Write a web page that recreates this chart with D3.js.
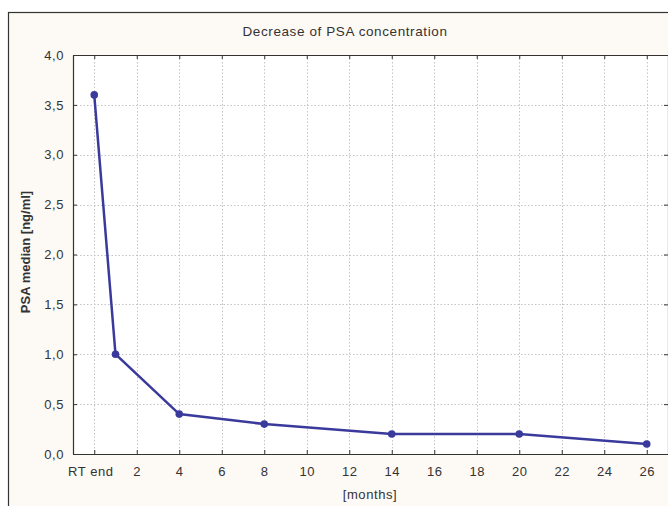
<!DOCTYPE html>
<html>
<head>
<meta charset="utf-8">
<script src="https://cdn.jsdelivr.net/npm/d3@7/dist/d3.min.js"></script>
<style>
  body { margin: 0; background: #fff; }
  text { font-family: "Liberation Sans", Arial, sans-serif; fill: #333; }
</style>
</head>
<body>
<svg id="chart" width="668" height="506"></svg>
<script>
// data
var months = [0, 1, 4, 8, 14, 20, 26];
var psaMedian = [3.6, 1.0, 0.4, 0.3, 0.2, 0.2, 0.1];
var xTicks = [0, 2, 4, 6, 8, 10, 12, 14, 16, 18, 20, 22, 24, 26];
var yTicks = [0, 0.5, 1, 1.5, 2, 2.5, 3, 3.5, 4];

var svg = d3.select("#chart");
var plotL = 73, plotR = 668, plotT = 55, plotB = 454;   // "top" is taken by window.top

// outer frame (cream panel)
svg.append("rect")
    .attr("x", 8.5).attr("y", 12.5)
    .attr("width", 700).attr("height", 520)
    .attr("fill", "#fdf9f4")
    .attr("stroke", "#333").attr("stroke-width", 1.2);

var x = d3.scaleLinear().domain([-1, 27]).range([plotL, plotR]);
var y = d3.scaleLinear().domain([0, 4]).range([plotB, plotT]);

// plot background
svg.append("rect")
    .attr("x", plotL).attr("y", plotT)
    .attr("width", plotR - plotL).attr("height", plotB - plotT)
    .attr("fill", "#fff");

// grid
var grid = svg.append("g").attr("stroke", "#c4c4c4").attr("stroke-dasharray", "1.5,2").attr("stroke-width", 1);
grid.selectAll(".gx").data(xTicks).enter().append("line")
    .attr("x1", function(d){ return Math.round(x(d)) + 0.5; })
    .attr("x2", function(d){ return Math.round(x(d)) + 0.5; })
    .attr("y1", plotT).attr("y2", plotB);
grid.selectAll(".gy").data(yTicks.slice(1, -1)).enter().append("line")
    .attr("y1", function(d){ return Math.round(y(d)) + 0.5; })
    .attr("y2", function(d){ return Math.round(y(d)) + 0.5; })
    .attr("x1", plotL).attr("x2", plotR);

// axes, ticks pointing inward
var fmt = function(d){ return d3.format(".1f")(d).replace(".", ","); };
var xFmt = function(d){ return d === 0 ? "RT end" : d; };

var gBottom = svg.append("g").attr("transform", "translate(0," + plotB + ")")
    .call(d3.axisBottom(x).tickValues(xTicks).tickFormat(xFmt).tickSizeInner(-4).tickSizeOuter(0).tickPadding(13));
var gTop = svg.append("g").attr("transform", "translate(0," + plotT + ")")
    .call(d3.axisTop(x).tickValues(xTicks).tickFormat("").tickSizeInner(-4).tickSizeOuter(0));
var gLeft = svg.append("g").attr("transform", "translate(" + plotL + ",0)")
    .call(d3.axisLeft(y).tickValues(yTicks).tickFormat(fmt).tickSizeInner(-4).tickSizeOuter(0).tickPadding(9));
var gRight = svg.append("g").attr("transform", "translate(" + plotR + ",0)")
    .call(d3.axisRight(y).tickValues(yTicks).tickFormat("").tickSizeInner(-4).tickSizeOuter(0));

[gBottom, gTop, gLeft, gRight].forEach(function(g){
    g.selectAll("path").attr("stroke", "#333").attr("stroke-width", 1.2);
    g.selectAll("line").attr("stroke", "#333");
    g.selectAll("text").attr("font-size", 13).attr("fill", "#333")
        .attr("letter-spacing", 0.6)
        .style("font-family", "'Liberation Sans', Arial, sans-serif");
});
gBottom.selectAll("text").filter(function(d){ return d === 0; }).attr("dx", -4);

// line
var pts = months.map(function(m, i){ return [m, psaMedian[i]]; });
svg.append("path")
    .datum(pts)
    .attr("fill", "none")
    .attr("stroke", "#3a3a9c")
    .attr("stroke-width", 2.5)
    .attr("d", d3.line().x(function(d){ return x(d[0]); }).y(function(d){ return y(d[1]); }));

svg.selectAll(".pt").data(pts).enter().append("circle")
    .attr("cx", function(d){ return x(d[0]); })
    .attr("cy", function(d){ return y(d[1]); })
    .attr("r", 3.8)
    .attr("fill", "#3a3a9c");

// titles
svg.append("text").attr("x", 345).attr("y", 36).attr("text-anchor", "middle")
    .attr("font-size", 13.5).attr("letter-spacing", 0.6).text("Decrease of PSA concentration");
svg.append("text").attr("x", 370).attr("y", 499).attr("text-anchor", "middle")
    .attr("font-size", 13).attr("letter-spacing", 0.6).text("[months]");
svg.append("text").attr("transform", "translate(30,252) rotate(-90)").attr("text-anchor", "middle")
    .attr("font-size", 13).attr("font-weight", "bold").attr("fill", "#444").text("PSA median [ng/ml]");
</script>
</body>
</html>
